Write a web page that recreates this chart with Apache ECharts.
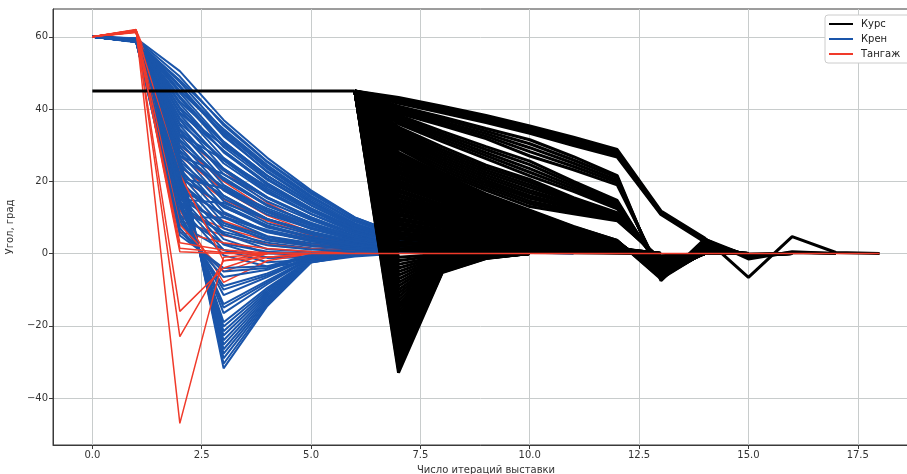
<!DOCTYPE html>
<html><head><meta charset="utf-8">
<script src="https://cdn.jsdelivr.net/npm/echarts@6/dist/echarts.min.js"></script>
<style>html,body{margin:0;padding:0;background:#fff}#c{width:907px;height:474px}</style>
</head><body><div id="c"></div>
<script>
// ---------- tick labels ----------
const xTicks = [0, 2.5, 5, 7.5, 10, 12.5, 15, 17.5];
const yTicks = [-40, -20, 0, 20, 40, 60];
const seriesNames = ['Курс', 'Крен', 'Тангаж'];
const xAxisTitle = 'Число итераций выставки';
const yAxisTitle = 'Угол, град';

// ---------- Курс (black) ----------
const kursHold = [45, 45, 45, 45, 45, 45, 45];          // iterations 0..6
const kursFromIter = 6;                                  // the lines below start at iteration 6
const kursLines = [
  // upper bundle
  [45,43.2,40.8,38.2,35.3,32.2,28.8,11.8,4.3,-6.6,4.7,0.3,0],
  [45,42.8,40.3,37.7,34.8,31.6,28.2,11.5,4,-1.5,0.5,0],
  [45,42.4,39.8,37.2,34.3,31,27.6,11.2,3.8,-1,0.3,0],
  [45,42,39.4,36.7,33.8,30.4,27.1,11,3.5,-0.8,0],
  [45,41.6,39,36.3,33.3,29.9,26.7,10.8,3.2,-0.5,0],
  // second bundle
  [45,40.8,37.8,34.6,31.5,26.8,21.6,-7.5,4,-0.8,0],
  [45,40.3,37.2,33.9,30.4,25.9,21,-6.9,3.4,-0.6,0],
  [45,39.8,36.6,33.2,29.3,25,20.3,-6.3,2.8,-0.4,0],
  [45,39.3,36,32.5,28.2,24.1,19.7,-5.7,2.2,-0.3,0],
  [45,38.8,35.4,31.8,27,23.2,19,-5.2,1.7,-0.2,0],
  // third bundle
  [45,38.3,33.8,29.6,25.6,20,14.7,-5,1.5,-0.2,0],
  [45,37.7,33.1,28.8,24.6,19.3,14.1,-4.4,1.1,0],
  [45,37.1,32.4,27.9,23.5,18.6,13.5,-3.8,0.8,0],
  [45,36.5,31.7,27.1,22.5,17.9,12.9,-3.2,0.5,0],
  [45,35.9,31,26.3,21.5,17.2,12.4,-2.8,0.3,0],
  // fourth bundle
  [45,35,29.5,24.5,20.5,15.5,11.3,-3,0.4,0],
  [45,34.4,28.8,23.8,19.8,15.1,11.1,-2.9,0.3,0],
  [45,33.8,28.1,23.1,19,14.7,10.9,-2.7,0.3,0],
  [45,33.2,27.4,22.4,18.3,14.3,10.7,-2.6,0.2,0],
  [45,32.6,26.7,21.7,17.5,13.8,10.5,-2.4,0.2,0],
  [45,32,26,21,16.8,13.4,10.3,-2.3,0],
  [45,31.4,25.3,20.3,16,12.9,10,-2.1,0],
  [45,30.8,24.6,19.6,15.3,12.5,9.8,-2,0],
  [45,30.2,23.9,18.9,14.5,12,9.6,-1.8,0],
  [45,29.6,23.2,18.2,13.8,11.5,9.4,-1.7,0],
  [45,29,22.5,17.5,13,11,9.1,-1.5,0],
  // lower mass
  [45,28,22,16.5,12,7.5,3.6,-7,0.5,0],
  [45,27.4,21.4,16.2,11.8,7.4,3.6,-6.7,0.4,0],
  [45,26.7,20.8,15.7,11.5,7.2,3.5,-6.4,0.3,0],
  [45,26.1,20.4,15.4,11.2,7,3.4,-6.1,0.2,0],
  [45,25.4,19.8,15,10.9,6.9,3.3,-5.8,0.2,0],
  [45,24.8,19.3,14.6,10.7,6.7,3.2,-5.5,0],
  [45,24.1,18.8,14.2,10.4,6.5,3.1,-5.2,0],
  [45,23.5,18.3,13.9,10.1,6.3,3.1,-4.9,0],
  [45,22.8,17.8,13.5,9.8,6.2,3,-4.6,0],
  [45,22.2,17.3,13.1,9.5,6,2.9,-4.3,0],
  [45,21.5,16.8,12.7,9.2,5.8,2.8,-4,0],
  [45,20.9,16.3,12.3,9,5.6,2.7,-3.7,0],
  [45,20.2,15.8,11.9,8.7,5.5,2.6,-3.4,0],
  [45,19.6,15.3,11.6,8.4,5.3,2.5,-3.1,0],
  [45,18.9,14.7,11.2,8.1,5.1,2.5,-2.9,0],
  [45,18.3,14.3,10.8,7.9,4.9,2.4,-2.6,0],
  [45,17.6,13.7,10.4,7.6,4.8,2.3,-2.4,0],
  [45,17,13.3,10,7.3,4.6,2.2,-2.1,0],
  [45,16.3,12.7,9.6,7,4.4,2.1,-1.9,0],
  [45,15.7,12.2,9.3,6.8,4.2,2,-1.6,0],
  [45,15,11.7,8.9,6.5,4.1,2,-1.4,0],
  [45,14.4,11.2,8.5,6.2,3.9,1.9,-1.2,0],
  [45,13.7,10.7,8.1,5.9,3.7,1.8,-1,0],
  [45,13.1,10.2,7.7,5.6,3.5,1.7,-0.8,0],
  [45,12.4,9.7,7.3,5.3,3.3,1.6,-0.6,0],
  [45,11.8,9.2,7,5.1,3.2,1.5,0],
  [45,11.1,8.7,6.5,4.8,3,1.4,0],
  [45,10.5,8.2,6.2,4.5,2.8,1.4,0],
  [45,9.8,7.6,5.8,4.2,2.6,1.3,0],
  [45,9.2,7.2,5.4,4,2.5,1.2,0],
  [45,8.5,6.6,5,3.7,2.3,1.1,0],
  [45,7.9,6.2,4.7,3.4,2.1,1,0],
  [45,7.2,5.6,4.2,3.1,1.9,0.9,0],
  [45,6.6,5.1,3.9,2.8,1.8,0.9,0],
  [45,5.9,4.6,3.5,2.5,1.6,0.8,0],
  [45,5.3,4.1,3.1,2.3,1.4,0.7,0],
  [45,4.6,3.6,2.7,2,1.2,0.6,0],
  [45,4,3.1,2.4,1.7,1.1,0.5,0],
  [45,3.3,2.6,1.9,1.4,0.9,0.4,0],
  [45,2.7,2.1,1.6,1.2,0.7,0.4,0],
  [45,2,1.6,1.2,0.9,0.5,0.3,0],
  [45,1.4,1.1,0.8,0.6,0.4,0.2,0],
  [45,0.7,0.5,0.4,0.3,0.2,0.1,0],
  // downward fan
  [45,-33,-5.3,-1.4,0],
  [45,-32,-5.1,-1.3,0],
  [45,-31,-5,-1.2,0],
  [45,-30,-4.8,-1.2,0],
  [45,-29,-4.6,-1.1,0],
  [45,-28,-4.5,-1.1,0],
  [45,-27,-4.3,-1,0],
  [45,-26,-4.2,-1,0],
  [45,-25,-4,-0.9,0],
  [45,-24,-3.8,-0.9,0],
  [45,-23,-3.7,-0.8,0],
  [45,-22,-3.5,-0.8,0],
  [45,-21,-3.4,-0.7,0],
  [45,-20,-3.2,-0.7,0],
  [45,-19,-3,-0.6,0],
  [45,-18,-2.9,-0.6,0],
  [45,-17,-2.7,-0.5,0],
  [45,-16,-2.6,-0.5,0],
  [45,-15,-2.4,-0.5,0],
  [45,-14,-2.2,-0.4,0],
  [45,-13,-2.1,-0.4,0],
  [45,-12,-1.9,-0.3,0],
  [45,-11,-1.8,-0.3,0],
  [45,-10,-1.6,-0.3,0],
  [45,-9,-1.4,-0.2,0],
  [45,-8,-1.3,-0.2,0],
  [45,-7,-1.1,-0.2,0],
  [45,-6,-1,-0.1,0],
  [45,-5,-0.8,-0.1,0],
  [45,-4,-0.6,0],
  [45,-3,-0.5,0],
  [45,-2,-0.3,0],
  [45,-1,-0.2,0]
];

// ---------- Крен (blue), from iteration 0 ----------
const krenLines = [
  [60,59.6,50.5,37,26.5,17.5,10,5.5,2.6,1,0.3,0],
  [60,58.7,48,36,25.5,17,10,5.4,2.4,0.8,0],
  [60,59.4,49,35.5,25.3,16.6,9.5,5.1,2.4,0.9,0.2,0],
  [60,59.5,45,34.5,24.5,16,9,4.7,2,0.6,0],
  [60,59.2,47.5,34,24,15.8,9,4.8,2.2,0.8,0],
  [60,58.9,45,33.5,23.5,15.5,9,4.8,2.1,0.7,0],
  [60,59.4,46.5,33,22.5,14.5,8,4.2,1.8,0.6,0],
  [60,59,46,32.5,22.8,15,8.4,4.4,2,0.7,0],
  [60,59.3,42,31,21.5,14,8,4.3,1.9,0.6,0],
  [60,58.8,44.5,31,21.6,14.1,7.9,4.1,1.8,0.6,0],
  [60,58.7,43.5,30.5,20.8,13.4,7.5,3.9,1.7,0.5,0],
  [60,59.3,39,30,21.5,14,7.8,4,1.7,0.5,0],
  [60,58.6,43,29.5,20.4,13.3,7.4,3.8,1.6,0.5,0],
  [60,58.6,39,28.5,19.5,12.5,7.1,3.8,1.6,0.5,0],
  [60,59.1,40.5,28.3,19,12.2,6.8,3.5,1.5,0.4,0],
  [60,58.9,41.5,28,19.2,12.5,6.9,3.5,1.5,0.4,0],
  [60,59.1,40,26.5,18,11.7,6.4,3.2,1.3,0.3,0],
  [60,59.2,36,26,17.5,11,6.2,3.3,1.4,0.4,0],
  [60,59,33,26,18.5,12,6.7,3.4,1.4,0.4,0],
  [60,58.9,37.5,25.8,17.2,11,6.1,3.1,1.3,0.3,0],
  [60,59.3,38.5,25,16.8,10.9,5.9,2.9,1.1,0.2,0],
  [60,59.4,33,23.5,15.5,9.6,5.4,2.8,1.2,0.3,0],
  [60,58.7,37,23.5,15.6,10.1,5.4,2.6,1,0],
  [60,59.2,34.5,23,15.3,9.8,5.4,2.8,1.1,0.3,0],
  [60,58.5,35.5,22,14.4,9.3,4.9,2.3,0.9,0],
  [60,58.7,27,22,15.5,10,5.6,2.8,1.1,0.3,0],
  [60,58.8,30,21,13.5,8.2,4.6,2.4,1,0.2,0],
  [60,58.8,34,20.5,13.2,8.5,4.5,2.1,0.8,0],
  [60,58.6,31.5,20.3,13.3,8.5,4.7,2.4,1,0.2,0],
  [60,59,32.5,19,12,7.7,4.1,1.9,0.7,0],
  [60,59.1,27,18.5,11.5,6.8,3.8,2,0.8,0],
  [60,58.9,21,18,12.5,8,4.5,2.2,0.9,0.2,0],
  [60,59.3,28.5,17.8,11.4,7.2,4,2,0.8,0],
  [60,59.2,31,17.5,10.8,6.9,3.7,1.7,0.6,0],
  [60,59.4,29.5,16,9.6,6.1,3.3,1.5,0.5,0],
  [60,58.9,24,16,9.5,5.5,3,1.6,0.6,0],
  [60,58.8,25.5,15.3,9.5,5.9,3.3,1.7,0.6,0],
  [60,58.6,28,14.5,8.4,5.3,2.9,1.3,0.4,0],
  [60,59.1,15,14,9.5,6,3.4,1.7,0.7,0],
  [60,59.3,21,13.5,7.8,4.4,2.4,1.2,0.5,0],
  [60,58.8,26.5,13,7.2,4.5,2.5,1.1,0.3,0],
  [60,59,22.5,12.8,7.7,4.7,2.6,1.3,0.5,0],
  [60,59,25,11.5,6,3.7,2.1,0.9,0.2,0],
  [60,58.7,18,11,6.2,3.4,1.8,0.9,0.3,0],
  [60,59.4,19.5,10.3,5.9,3.5,2,1,0.4,0],
  [60,58.6,10,10,6.5,4,2.3,1.1,0.4,0],
  [60,59.2,23.5,10,4.8,2.9,1.7,0.7,0],
  [60,59.5,15,8.5,4.6,2.4,1.2,0.6,0],
  [60,58.7,22,8.5,3.6,2.1,1.3,0.5,0],
  [60,58.7,16.5,7.8,4.1,2.3,1.3,0.6,0],
  [60,58.9,20.5,7,2.4,1.3,0.9,0.3,0],
  [60,59,12,6,3,1.5,0.7,0.3,0],
  [60,59.1,19,5.5,1.2,0.5,0.4,0],
  [60,59.1,13.5,5.3,2.3,1.1,0.6,0.2,0],
  [60,58.6,17.5,4,0,-0.3,0],
  [60,58.9,10.5,2.8,0.5,0,0],
  [60,58.8,16,2.5,-1.2,-1,-0.3,0],
  [60,59,14.5,1,-2.4,-1.7,-0.5,0],
  [60,59.2,8,1,-1,-0.8,-0.2,0],
  [60,59.2,13,-0.5,-3.6,-2.4,-0.8,0],
  [60,58.8,27,-31.8,-14.5,-2.5,-0.5,0],
  [60,59.1,26,-30.5,-14,-2.4,-0.4,0],
  [60,59,25,-29,-13.5,-2.3,-0.4,0],
  [60,58.7,24,-27.7,-13,-2.2,-0.3,0],
  [60,59.2,23,-26.5,-12.5,-2.1,-0.3,0],
  [60,59.3,22,-25.2,-12,-2,-0.3,0],
  [60,58.6,21,-24,-11.5,-1.9,-0.3,0],
  [60,58.9,20,-22.7,-11,-1.8,-0.2,0],
  [60,58.9,19,-21.5,-10.5,-1.7,-0.2,0],
  [60,59,18,-20.2,-10,-1.6,0],
  [60,59.1,17,-19,-9.5,-1.5,0],
  [60,58.7,15,-16.5,-8.5,-1.3,0],
  [60,58.6,14,-15,-8,-1.2,0],
  [60,59,13,-14,-7.5,-1.1,0],
  [60,59.3,11,-11.5,-6.5,-0.9,0],
  [60,59.2,10,-10,-6,-0.8,0],
  [60,58.8,9,-9,-5.5,-0.7,0],
  [60,59,7,-6.5,-4.5,-0.5,0],
  [60,58.8,6,-5,-4,-0.4,0],
  [60,59.2,5,-4,-3.5,-0.3,0]
];

// ---------- Тангаж (red), from iteration 0 ----------
const tangazhInner = [
  [60,61.9,33,23,14,8,4.5,2.2,1,0.3,0],
  [60,61.7,30,20,12,7,3.8,1.8,0.8,0.2,0],
  [60,61.5,27,17.5,10.5,6,3.2,1.5,0.6,0],
  [60,61.3,24,15,9,5,2.7,1.2,0.5,0],
  [60,61.8,21,13,7.5,4.2,2.2,1,0.4,0],
  [60,61.6,18,11,6,3.4,1.8,0.8,0.3,0],
  [60,61.4,15,9,4.8,2.7,1.4,0.6,0],
  [60,61.9,12,7,3.6,2,1,0.4,0],
  [60,61.2,9,5,2.5,1.3,0.6,0],
  [60,61.7,6,3,1.4,0.6,0],
  [60,61.5,22,-2,-1,0],
  [60,61.3,12,-8,-2,0],
  [60,61.6,8,-5,-1,0]
];
const tangazhOuter = [
  [60,62,-47,-1,0],
  [60,61.7,-23,-2,0],
  [60,61.5,-16,-4,0],
  [60,61.6,1.5,0.3,0],
  [60,61.4,3,1,0.2,0]
];
const tangazhZero = [60,61.8,0.5,0,0,0,0,0,0,0,0,0,0,0,0,0,0,0,0];

// ---------- build ----------
const colors = { 'Курс': '#000000', 'Крен': '#1a55aa', 'Тангаж': '#f03a2a' };
const widths = { 'Курс': 3, 'Крен': 2, 'Тангаж': 1.5 };
function pts(values, startIter) { return values.map((v, i) => [startIter + i, v]); }
function line(name, values, startIter) {
  return {
    type: 'line', name: name, data: pts(values, startIter),
    showSymbol: false, symbol: 'none', silent: true, animation: false,
    lineStyle: { color: colors[name], width: widths[name] },
    itemStyle: { color: colors[name] }
  };
}
const series = [];
let r = 0;
krenLines.forEach((a, i) => {
  series.push(line('Крен', a, 0));
  if (i % 6 === 4 && r < tangazhInner.length) series.push(line('Тангаж', tangazhInner[r++], 0));
});
while (r < tangazhInner.length) series.push(line('Тангаж', tangazhInner[r++], 0));
tangazhOuter.forEach(a => series.push(line('Тангаж', a, 0)));
series.push(line('Курс', kursHold, 0));
kursLines.forEach(a => series.push(line('Курс', a, kursFromIter)));
series.push(line('Тангаж', tangazhZero, 0));

const minus = v => (v < 0 ? '\u2212' + Math.abs(v) : String(v));
const txt = '#333333';
const chart = echarts.init(document.getElementById('c'), null, { renderer: 'canvas' });
chart.setOption({
  backgroundColor: '#ffffff',
  animation: false,
  textStyle: { fontFamily: 'DejaVu Sans' },
  grid: { left: 53, right: -12, top: 9, bottom: 29, show: true, borderColor: '#3a3a3a', borderWidth: 1,
          containLabel: false, outerBoundsMode: 'none' },
  legend: {
    data: seriesNames.map(s => ({ name: s })),
    orient: 'vertical', left: 825, top: 15,
    padding: [4, 12, 4, 4], itemGap: 5, itemWidth: 24, itemHeight: 2, icon: 'rect',
    borderColor: '#cccccc', borderWidth: 1, borderRadius: 3, backgroundColor: '#ffffff',
    textStyle: { fontSize: 10, color: '#222', fontFamily: 'DejaVu Sans', padding: [0, 0, 0, 3] }
  },
  xAxis: {
    type: 'value', min: -0.9, max: 18.9,
    name: xAxisTitle, nameLocation: 'middle', nameGap: 20,
    nameTextStyle: { fontSize: 10, color: txt },
    axisLine: { show: true, onZero: false, lineStyle: { color: '#3a3a3a' } },
    axisTick: { show: true, customValues: xTicks, length: 4, lineStyle: { color: '#3a3a3a' } },
    axisLabel: { customValues: xTicks, formatter: v => v.toFixed(1), fontSize: 10, color: txt, margin: 5 },
    splitLine: { show: true, lineStyle: { color: '#c8cccc', width: 1 } }
  },
  yAxis: {
    type: 'value', min: -53, max: 67.7,
    name: yAxisTitle, nameLocation: 'middle', nameGap: 38, nameRotate: 90,
    nameTextStyle: { fontSize: 10, color: txt },
    axisLine: { show: true, onZero: false, lineStyle: { color: '#3a3a3a' } },
    axisTick: { show: true, customValues: yTicks, length: 4, lineStyle: { color: '#3a3a3a' } },
    axisLabel: { customValues: yTicks, formatter: minus, fontSize: 10, color: txt, margin: 5 },
    splitLine: { show: true, lineStyle: { color: '#c8cccc', width: 1 } }
  },
  series: series
});
</script>
</body></html>
